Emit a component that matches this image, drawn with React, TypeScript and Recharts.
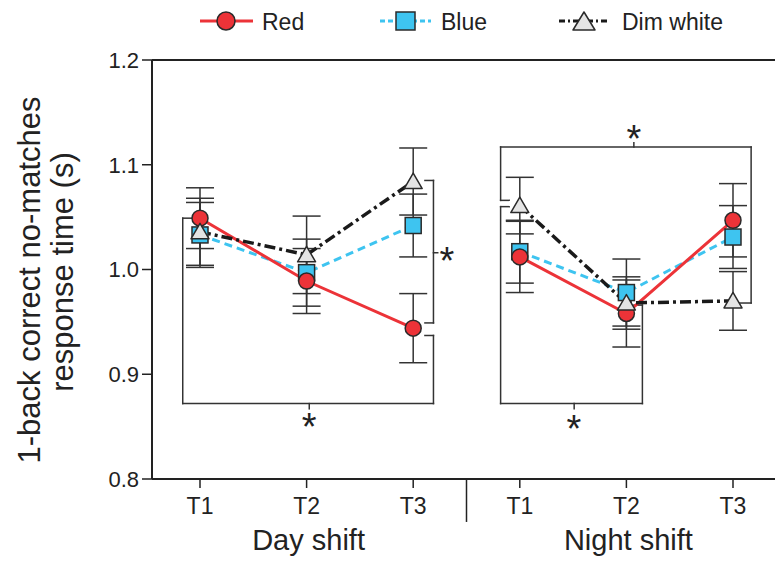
import React from 'react';
import { LineChart, Line, XAxis, YAxis, ErrorBar, ReferenceLine, ReferenceDot } from 'recharts';

// ---------- data ----------
const timepoints = ['T1', 'T2', 'T3'];
const shifts = ['Day shift', 'Night shift'];
const xPositions = [1, 2, 3, 4, 5, 6];
const yTicks = [0.8, 0.9, 1.0, 1.1, 1.2];

const redMean = [1.049, 0.989, 0.944, 1.012, 0.958, 1.047];
const redErr = [0.029, 0.031, 0.033, 0.034, 0.032, 0.035];
const blueMean = [1.033, 0.997, 1.042, 1.017, 0.978, 1.031];
const blueErr = [0.031, 0.032, 0.030, 0.030, 0.032, 0.030];
const dimMean = [1.036, 1.014, 1.084, 1.061, 0.968, 0.970];
const dimErr = [0.032, 0.037, 0.032, 0.027, 0.025, 0.028];

// significance brackets (polylines in data units) and asterisks
const dayTimeBracket = [[0.922, 1.049], [0.838, 1.049], [0.838, 0.872], [3.19, 0.872], [3.19, 0.937], [3.11, 0.937]];
const dayTimeTick = [[2.025, 0.872], [2.025, 0.867]];
const dayLightBracket = [[3.11, 1.085], [3.19, 1.085], [3.19, 0.949], [3.11, 0.949]];
const dayLightTick = [[3.19, 1.016], [3.23, 1.016]];
const nightTopBracket = [[3.90, 1.066], [3.82, 1.066], [3.82, 1.117], [6.17, 1.117], [6.17, 0.968], [6.035, 0.968]];
const nightTopTick = [[5.07, 1.117], [5.07, 1.121]];
const nightBottomBracket = [[3.90, 1.060], [3.82, 1.060], [3.82, 0.872], [5.15, 0.872], [5.15, 0.966], [5.07, 0.966]];
const nightBottomTick = [[4.51, 0.872], [4.51, 0.867]];
const shiftDivider = [[3.5, 0.8], [3.5, 0.759]];
const asterisks = [[2.025, 0.858], [3.317, 1.0167], [5.07, 1.133], [4.508, 0.856]];

const allBrackets = [dayTimeBracket, dayTimeTick, dayLightBracket, dayLightTick, nightTopBracket, nightTopTick, nightBottomBracket, nightBottomTick];

const FONT = '"Liberation Sans", Arial, Helvetica, sans-serif';
const RED = '#ec3338';
const BLUE = '#3ec4f0';
const GRAY = '#e4e4e4';
const INK = '#222';

const shiftData = (means: number[], errs: number[], s: number) =>
  timepoints.map((t, i) => ({ x: xPositions[s * 3 + i], y: means[s * 3 + i], err: errs[s * 3 + i], t }));

const RedDot = (p: any) => (
  <circle key={`rd-${p.index}`} cx={p.cx} cy={p.cy} r={8} fill={RED} stroke="#2a2a2a" strokeWidth={1.5} />
);
const BlueDot = (p: any) => (
  <rect key={`bd-${p.index}`} x={p.cx - 8} y={p.cy - 8} width={16} height={16} fill={BLUE} stroke="#2a2a2a" strokeWidth={1.5} />
);
const DimDot = (p: any) => (
  <polygon key={`dd-${p.index}`} points={`${p.cx},${p.cy - 8.5} ${p.cx - 9},${p.cy + 7} ${p.cx + 9},${p.cy + 7}`} fill={GRAY} stroke="#2a2a2a" strokeWidth={1.5} strokeLinejoin="round" />
);

const XTick = (props: any) => {
  const { x, y, payload } = props;
  const idx = xPositions.indexOf(payload.value);
  if (idx < 0) return <g />;
  return (
    <g>
      <text x={x} y={y + 26} textAnchor="middle" fontSize={23} fill={INK} fontFamily={FONT}>{timepoints[idx % 3]}</text>
      {idx % 3 === 1 && (
        <text x={x + 2} y={y + 62} textAnchor="middle" fontSize={29} fill={INK} fontFamily={FONT}>{shifts[Math.floor(idx / 3)]}</text>
      )}
    </g>
  );
};

const YLabel = () => (
  <g fontFamily={FONT} fontSize={31} fill={INK}>
    <text x={40} y={280} textAnchor="middle" transform="rotate(-90, 40, 280)">1-back correct no-matches</text>
    <text x={73} y={272} textAnchor="middle" transform="rotate(-90, 73, 272)">response time (s)</text>
  </g>
);

const Star = (p: any) => {
  const vb = p.viewBox || {};
  const cx = (vb.x ?? 0) + (vb.width ?? 0) / 2;
  const cy = (vb.y ?? 0) + (vb.height ?? 0) / 2;
  return <text x={cx} y={cy + 22} textAnchor="middle" fontSize={38} fill={INK} fontFamily={FONT}>*</text>;
};

const Legend = () => (
  <svg width={775} height={45} style={{ position: 'absolute', left: 0, top: 0 }}>
    <g fontFamily={FONT} fontSize={23} fill={INK}>
      <line x1={200} y1={21} x2={253} y2={21} stroke={RED} strokeWidth={3} />
      <circle cx={226} cy={21} r={9} fill={RED} stroke="#2a2a2a" strokeWidth={1.5} />
      <text x={262} y={29.5}>Red</text>
      <line x1={380} y1={21} x2={431} y2={21} stroke={BLUE} strokeWidth={3} strokeDasharray="5 3" />
      <rect x={396} y={12} width={19} height={18} fill={BLUE} stroke="#2a2a2a" strokeWidth={1.5} />
      <text x={441} y={29.5}>Blue</text>
      <line x1={559} y1={21} x2={610} y2={21} stroke="#1a1a1a" strokeWidth={3} strokeDasharray="6 3 2 3" />
      <polygon points="584,12 573,30 595,30" fill={GRAY} stroke="#2a2a2a" strokeWidth={1.5} strokeLinejoin="round" />
      <text x={622} y={29.5}>Dim white</text>
    </g>
  </svg>
);

const segmentsOf = (poly: number[][]) => {
  const out: { x: number; y: number }[][] = [];
  for (let i = 0; i < poly.length - 1; i++) {
    out.push([{ x: poly[i][0], y: poly[i][1] }, { x: poly[i + 1][0], y: poly[i + 1][1] }]);
  }
  return out;
};

export default function App() {
  const series = [
    { name: 'Blue', means: blueMean, errs: blueErr, color: BLUE, dash: '8 5', width: 3, dot: BlueDot },
    { name: 'Red', means: redMean, errs: redErr, color: RED, dash: undefined, width: 3, dot: RedDot },
    { name: 'Dim', means: dimMean, errs: dimErr, color: '#1a1a1a', dash: '11 4 3 4', width: 3.5, dot: DimDot },
  ];
  const bracketSegs = allBrackets.flatMap(segmentsOf);
  return (
    <div style={{ position: 'absolute', left: 0, top: 0, width: 775, height: 566, overflow: 'hidden', background: '#fff' }}>
      <LineChart width={775} height={566} margin={{ top: 60, right: 0, bottom: 0, left: 92 }} style={{ fontFamily: FONT }}>
        <XAxis
          type="number"
          dataKey="x"
          domain={[0.5497, 6.394]}
          ticks={xPositions}
          allowDataOverflow
          height={87}
          tickSize={9}
          tickMargin={0}
          tick={<XTick />}
          axisLine={{ stroke: INK, strokeWidth: 2 }}
          tickLine={{ stroke: INK, strokeWidth: 1.5 }}
        />
        <YAxis
          type="number"
          domain={[0.8, 1.2]}
          ticks={yTicks}
          width={60}
          tickSize={10}
          tickMargin={3}
          tickFormatter={(v: number) => v.toFixed(1)}
          tick={{ fontSize: 22, fill: INK, fontFamily: FONT }}
          axisLine={{ stroke: INK, strokeWidth: 2 }}
          tickLine={{ stroke: INK, strokeWidth: 1.5 }}
          label={{ content: <YLabel /> }}
        />
        <ReferenceLine y={1.2} stroke={INK} strokeWidth={2} />
        <ReferenceLine
          segment={segmentsOf(shiftDivider)[0]}
          stroke={INK}
          strokeWidth={1.5}
          ifOverflow="visible"
        />
        {bracketSegs.map((seg, i) => (
          <ReferenceLine key={`b-${i}`} segment={seg} stroke="#333" strokeWidth={1.5} strokeLinecap="square" ifOverflow="visible" />
        ))}
        {asterisks.map((a, i) => (
          <ReferenceDot key={`s-${i}`} x={a[0]} y={a[1]} r={1} fill="none" stroke="none" ifOverflow="visible" label={{ content: <Star /> }} />
        ))}
        {series.flatMap((s) =>
          shifts.map((sh, si) => (
            <Line
              key={`${s.name}-${si}`}
              data={shiftData(s.means, s.errs, si)}
              dataKey="y"
              type="linear"
              stroke={s.color}
              strokeWidth={s.width}
              strokeDasharray={s.dash}
              dot={s.dot}
              activeDot={false}
              isAnimationActive={false}
              legendType="none"
            >
              <ErrorBar dataKey="err" direction="y" width={14} stroke="#333" strokeWidth={1.5} />
            </Line>
          ))
        )}
      </LineChart>
      <Legend />
    </div>
  );
}
